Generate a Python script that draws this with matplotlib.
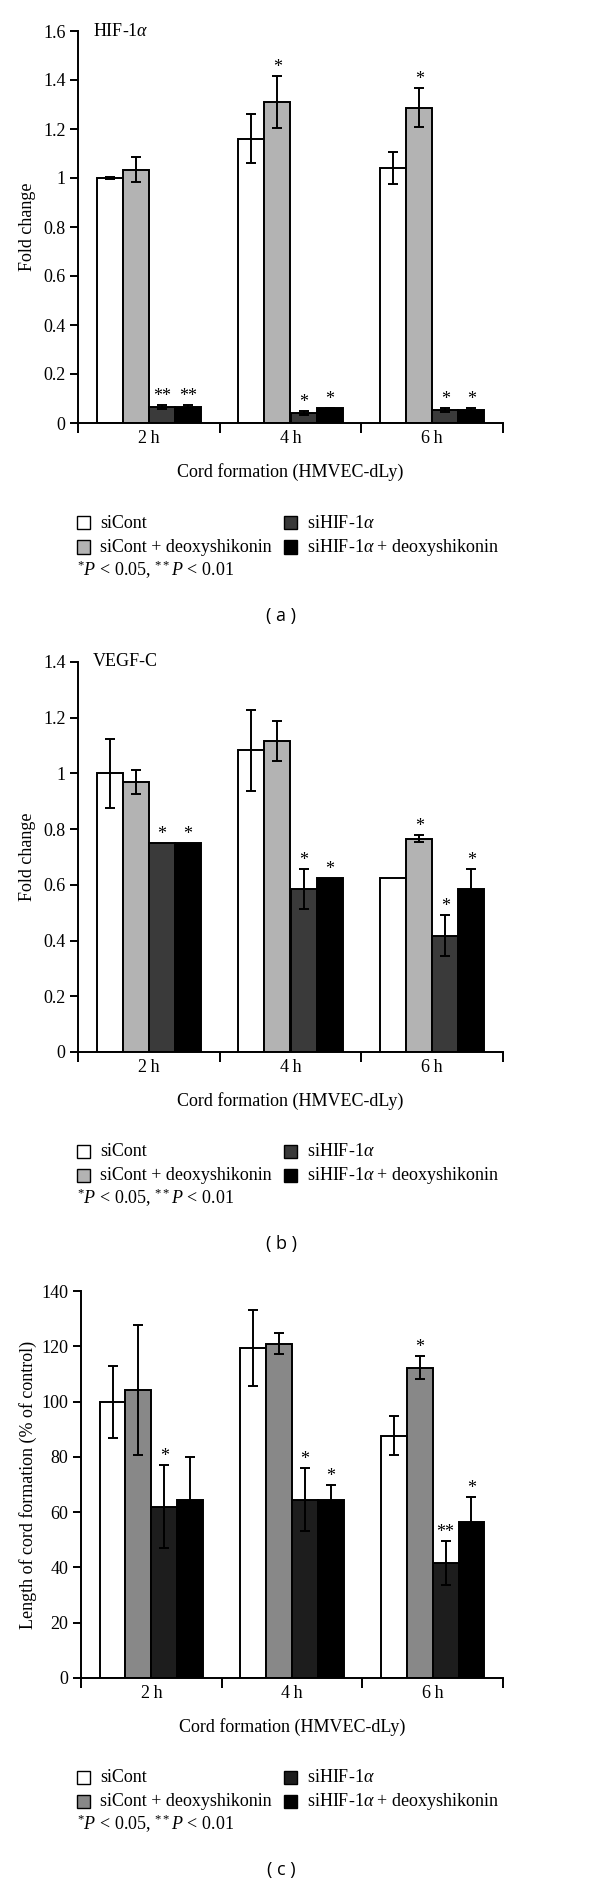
import numpy as np
import matplotlib
matplotlib.use('Agg')
import matplotlib.pyplot as plt
from matplotlib.patches import Rectangle

plt.rcParams['font.family'] = 'Liberation Serif'
plt.rcParams['mathtext.fontset'] = 'custom'
plt.rcParams['mathtext.rm'] = 'Liberation Serif'
plt.rcParams['mathtext.it'] = 'Liberation Serif:italic'

W, H = 600, 1886

groups = ['2\u2009h', '4\u2009h', '6\u2009h']
series = ['siCont', 'siCont + deoxyshikonin', r'siHIF-1$\alpha$',
          r'siHIF-1$\alpha$ + deoxyshikonin']

# panel (a): HIF-1a fold change
hif_mean = [[1.00, 1.16, 1.04],
            [1.034, 1.31, 1.287],
            [0.065, 0.042, 0.053],
            [0.067, 0.060, 0.055]]
hif_err = [[0.005, 0.10, 0.065],
           [0.05, 0.105, 0.08],
           [0.008, 0.008, 0.008],
           [0.006, 0.002, 0.006]]
hif_stars = [['', '', ''],
             ['', '*', '*'],
             ['**', '*', '*'],
             ['**', '*', '*']]

# panel (b): VEGF-C fold change
vegf_mean = [[1.00, 1.083, 0.626],
             [0.970, 1.116, 0.766],
             [0.749, 0.584, 0.418],
             [0.749, 0.626, 0.584]]
vegf_err = [[0.125, 0.145, 0.0],
            [0.043, 0.072, 0.012],
            [0.0, 0.072, 0.073],
            [0.0, 0.0, 0.072]]
vegf_stars = [['', '', ''],
              ['', '', '*'],
              ['*', '*', '*'],
              ['*', '*', '*']]

# panel (c): cord length, % of control
cord_mean = [[100.0, 119.5, 87.7],
             [104.2, 121.0, 112.2],
             [62.0, 64.5, 41.6],
             [64.5, 64.5, 56.4]]
cord_err = [[13.0, 13.7, 7.0],
            [23.5, 3.8, 4.2],
            [15.0, 11.5, 7.8],
            [15.4, 5.3, 9.0]]
cord_stars = [['', '', ''],
              ['', '', '*'],
              ['*', '*', '**'],
              ['', '*', '*']]

colors_ab = ['white', '#b3b3b3', '#3a3a3a', 'black']
colors_c = ['white', '#888888', '#1d1d1d', 'black']


def fx(x):
    return x / W


def fy(y):
    return 1 - y / H


def panel(fig, box, means, errs, stars, colors, ymax, ystep, ylabel,
          title, tick_fmt, leg_y, tag, tag_y):
    left, top, right, bottom = box
    ax = fig.add_axes([fx(left), fy(bottom), fx(right - left),
                       (bottom - top) / H])
    width = 0.184
    x = np.arange(len(groups))
    for i in range(len(series)):
        xs = x + (i - 1.5) * width
        ax.bar(xs, means[i], width, color=colors[i], edgecolor='black',
               linewidth=1.4, zorder=2)
        e = np.array(errs[i])
        m = np.array(means[i])
        keep = e > 0
        if keep.any():
            ax.errorbar(xs[keep], m[keep], yerr=e[keep], fmt='none',
                        ecolor='black', elinewidth=1.4, capsize=3.8,
                        capthick=1.4, zorder=3)
        for j in range(len(groups)):
            if stars[i][j]:
                ax.annotate(stars[i][j], (xs[j], m[j] + e[j]),
                            xytext=(0, 0), textcoords='offset points',
                            ha='center', va='bottom', fontsize=13)

    ax.set_xlim(-0.5, 2.5)
    ax.set_ylim(0, ymax)
    ax.spines['top'].set_visible(False)
    ax.spines['right'].set_visible(False)
    ax.spines['left'].set_linewidth(1.4)
    ax.spines['bottom'].set_linewidth(1.4)
    ax.set_yticks(np.arange(0, ymax + ystep / 2, ystep))
    ax.set_yticklabels([tick_fmt(v) for v in np.arange(0, ymax + ystep / 2, ystep)])
    ax.tick_params(axis='y', length=6, width=1.4, labelsize=13, pad=3)
    ax.set_xticks([-0.5, 0.5, 1.5, 2.5])
    ax.set_xticklabels([])
    ax.tick_params(axis='x', which='major', length=7, width=1.4)
    ax.set_xticks(x, minor=True)
    ax.set_xticklabels(groups, minor=True, fontsize=13)
    ax.tick_params(axis='x', which='minor', length=0, pad=5)

    mid = (left + right) / 2
    fig.text(fx(mid), fy(bottom + 49), 'Cord formation (HMVEC-dLy)',
             ha='center', va='center', fontsize=13)
    fig.text(fx(28), fy((top + bottom) / 2), ylabel, rotation=90,
             ha='center', va='center', fontsize=13)
    if title:
        fig.text(fx(93), fy(top), title, ha='left', va='center', fontsize=13)

    # legend, two columns
    spots = [(77, leg_y), (77, leg_y + 24), (284, leg_y), (284, leg_y + 24)]
    for (lx, ly), lab, c in zip(spots, series, colors):
        fig.patches.append(Rectangle((fx(lx), fy(ly + 6.5)), 13 / W, 13 / H,
                                     transform=fig.transFigure,
                                     facecolor=c, edgecolor='black',
                                     linewidth=1.0))
        fig.text(fx(lx + 23), fy(ly), lab, ha='left', va='center',
                 fontsize=13)
    fig.text(fx(77), fy(leg_y + 47),
             r'${}^{*}P$ < 0.05, ${}^{**}P$ < 0.01',
             ha='left', va='center', fontsize=13)
    fig.text(fx(281), fy(tag_y), tag, ha='center', va='center',
             fontsize=13, family='Open Sans')
    return ax


fig = plt.figure(figsize=(W / 100, H / 100), dpi=100)

panel(fig, (78, 31, 503, 423), hif_mean, hif_err, hif_stars, colors_ab,
      1.6, 0.2, 'Fold change', r'HIF-1$\alpha$', lambda v: '%g' % round(v, 1),
      523, '( a )', 616)
panel(fig, (78, 662, 503, 1052), vegf_mean, vegf_err, vegf_stars, colors_ab,
      1.4, 0.2, 'Fold change', 'VEGF-C', lambda v: '%g' % round(v, 1),
      1151, '( b )', 1244)
panel(fig, (81, 1291, 503, 1678), cord_mean, cord_err, cord_stars, colors_c,
      140, 20, 'Length of cord formation (% of control)', None,
      lambda v: '%d' % v, 1777, '( c )', 1870)

fig.savefig('out.png', dpi=100)
